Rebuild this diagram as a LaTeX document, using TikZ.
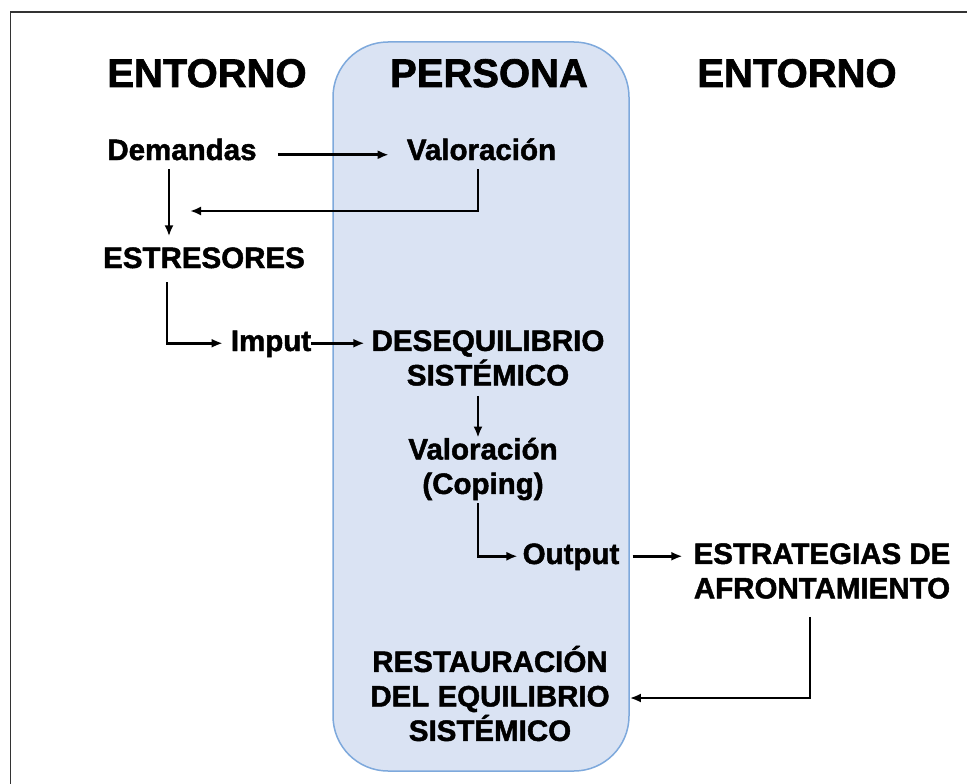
\documentclass[tikz,border=0pt]{standalone}
\usepackage{fontspec}
\setmainfont{Liberation Sans}[BoldFeatures={FakeBold=1.6}]
\usetikzlibrary{arrows.meta}
\usetikzlibrary{calc}
\usetikzlibrary{positioning}
\definecolor{personafill}{HTML}{DAE3F3}
\definecolor{personaline}{HTML}{7EA9DC}
\tikzset{
	titulo/.style={font=\bfseries\fontsize{40}{48}\selectfont, inner sep=0pt, anchor=base},
	lbl/.style={font=\bfseries\fontsize{29.5}{34.5}\selectfont, inner sep=0pt, text height=21.5pt, text depth=6pt},
	bloque/.style={font=\bfseries\fontsize{29.5}{34.5}\selectfont, inner sep=0pt, align=center},
	flecha/.style={-{Latex[length=11pt,width=9pt]}, line width=2.6pt}
}

\begin{document}
\begin{tikzpicture}[x=1pt, y=-1pt]
		\useasboundingbox (0,0) rectangle (967,784);
		% marco y panel central
		\draw[line width=1.5pt, black!80] (967,12) -- (10.5,12) -- (10.5,784);
		\draw[fill=personafill, draw=personaline, line width=1.5pt, rounded corners=55pt] (333,42) rectangle (629,771);
		
		\node[titulo] at (207,87) (entorno1) {ENTORNO};
		\node[titulo] at (489,87) (persona) {PERSONA};
		\node[titulo] at (797,87) (entorno2) {ENTORNO};
		
		\node[lbl] at (182,152.25) (demandas) {Demandas};
		\node[lbl] at (481.5,152.25) (valor) {Valoración};
		\node[lbl] at (204,260.25) (estresores) {ESTRESORES};
		\node[lbl] at (271,343.25) (imput) {Imput};
		\node[bloque] at (488,358) (deseq) {DESEQUILIBRIO\\SISTÉMICO};
		\node[bloque] at (483,469) (coping) {Valoración\\(Coping)};
		\node[lbl] at (571,556.25) (output) {Output};
		\node[bloque] at (822,571) (estrat) {ESTRATEGIAS DE\\AFRONTAMIENTO};
		\node[bloque] at (490,693.5) (restaur) {RESTAURACIÓN\\DEL EQUILIBRIO\\SISTÉMICO};
		
		\coordinate (union) at ([xshift=-13pt]demandas.south |- 0,211);
		
		\draw[flecha, shorten <=21pt, shorten >=18pt] ([yshift=-2.5pt]demandas.east) -- ([yshift=-2.5pt]valor.west);
		\draw[flecha, shorten <=3pt, shorten >=10pt] ([xshift=-13pt]demandas.south) -- ([xshift=-13pt]demandas.south |- estresores.north);
		\draw[flecha, shorten <=3pt, shorten >=21pt] ([xshift=-3.5pt]valor.south) |- (union);
		\draw[flecha, shorten <=8pt, shorten >=8pt] ([xshift=-37pt]estresores.south) |- (imput.west);
		\draw[flecha, shorten >=7pt] (imput.east) -- (imput.east -| deseq.west);
		\draw[flecha, shorten <=10pt] ([xshift=-10pt]deseq.south) -- ([xshift=-10pt]deseq.south |- coping.north);
		\draw[flecha, shorten <=3pt, shorten >=5pt] ([xshift=-5pt]coping.south) |- (output.west);
		\draw[flecha, shorten <=13pt, shorten >=11pt] (output.east) -- (output.east -| estrat.west);
		\draw[flecha, shorten <=18pt, shorten >=20pt] ([xshift=-12pt]estrat.south) |- ([yshift=-4.5pt]restaur.east);
	\end{tikzpicture}
\end{document}
